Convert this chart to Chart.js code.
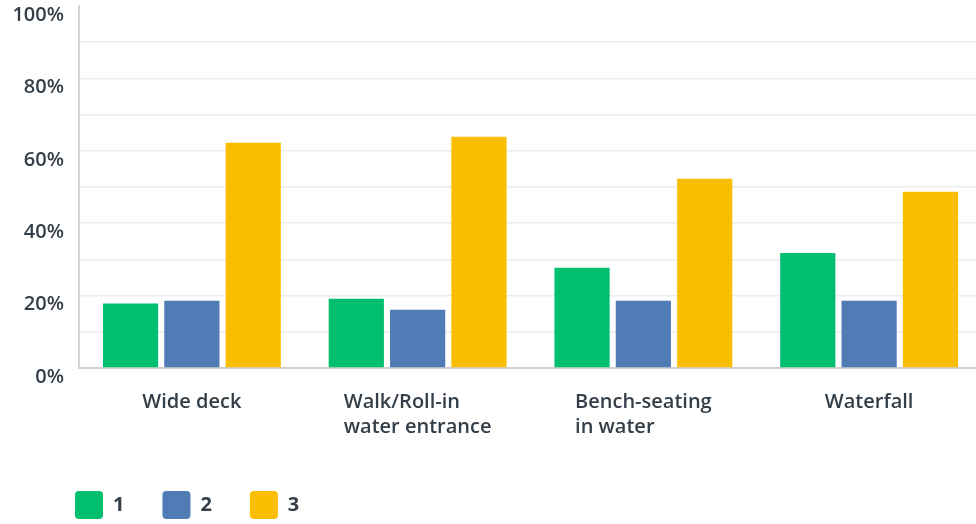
<!DOCTYPE html>
<html>
<head>
<meta charset="utf-8">
<script src="https://cdn.jsdelivr.net/npm/chart.js@4.4.1/dist/chart.umd.min.js"></script>
<style>
  html, body { margin: 0; padding: 0; background: #fff; overflow: hidden; }
  #wrap { width: 982px; height: 524px; position: relative; }
</style>
</head>
<body>
<div id="wrap"><canvas id="chart"></canvas></div>
<script>
// ═══ DATA ═══
const categories = [['Wide deck'], ['Walk/Roll-in', 'water entrance'], ['Bench-seating', 'in water'], ['Waterfall']];
const series1 = [17.8, 19.1, 27.7, 31.8];
const series2 = [18.6, 16.1, 18.6, 18.6];
const series3 = [62.2, 63.9, 52.3, 48.7];
const seriesNames = ['1', '2', '3'];
const yTickLabels = ['0%', '20%', '40%', '60%', '80%', '100%'];

const TEXT = '#333e48';
const FONT = "'Open Sans', sans-serif";

// x labels: block centred on the category, lines left-aligned
const xLabelPlugin = {
    id: 'xLabels',
    afterLayout(chart) {
        // nudge the legend to where the reference has it
        chart.legend.left += 37;
        chart.legend.right += 37;
        chart.legend.top += 5;
        chart.legend.bottom += 5;
    },
    afterDraw(chart) {
        const ctx = chart.ctx, xs = chart.scales.x;
        ctx.save();
        ctx.font = `600 20px ${FONT}`;
        ctx.fillStyle = TEXT;
        ctx.textAlign = 'left';
        ctx.textBaseline = 'alphabetic';
        categories.forEach((lines, i) => {
            const cx = xs.getPixelForValue(i);
            const w = Math.max(...lines.map(l => ctx.measureText(l).width));
            lines.forEach((l, j) => ctx.fillText(l, cx - w / 2, xs.top + 40 + j * 25));
        });
        ctx.restore();
    }
};

new Chart(document.getElementById('chart'), {
    type: 'bar',
    data: {
        labels: categories,
        datasets: [
            { label: seriesNames[0], data: series1, backgroundColor: '#00bf6f' },
            { label: seriesNames[1], data: series2, backgroundColor: '#507cb6' },
            { label: seriesNames[2], data: series3, backgroundColor: '#f9be00' }
        ]
    },
    options: {
        responsive: true,
        maintainAspectRatio: false,
        animation: false,
        layout: { padding: { top: 6, right: 0, left: 0, bottom: 0 } },
        datasets: { bar: { categoryPercentage: 0.815, barPercentage: 0.9 } },
        plugins: {
            tooltip: { enabled: false },
            legend: {
                position: 'bottom',
                align: 'start',
                labels: {
                    boxWidth: 28, boxHeight: 28, useBorderRadius: true, borderRadius: 4,
                    padding: 38, color: TEXT,
                    font: { family: FONT, size: 20, weight: '700' }
                }
            }
        },
        scales: {
            x: {
                grid: { display: false },
                border: { color: '#d0d0d0', width: 2 },
                ticks: { display: false },
                afterFit: s => { s.height = 80; s.paddingLeft = 0; s.paddingRight = 0; }
            },
            y: {
                min: 0, max: 100,
                afterFit: s => { s.width = 79; s.paddingTop = 0; s.paddingBottom = 0; },
                border: { color: '#d5d5d5', width: 2 },
                grid: {
                    color: c => c.tick.value === 100 || c.tick.value === 0 ? 'rgba(0,0,0,0)' : '#ececec',
                    lineWidth: 1.5,
                    drawTicks: false
                },
                ticks: {
                    stepSize: 10,
                    padding: 15,
                    labelOffset: 9,
                    color: TEXT,
                    font: { family: FONT, size: 20, weight: '600' },
                    callback: v => v % 20 === 0 ? yTickLabels[v / 20] : ''
                }
            }
        }
    },
    plugins: [xLabelPlugin]
});
</script>
</body>
</html>
